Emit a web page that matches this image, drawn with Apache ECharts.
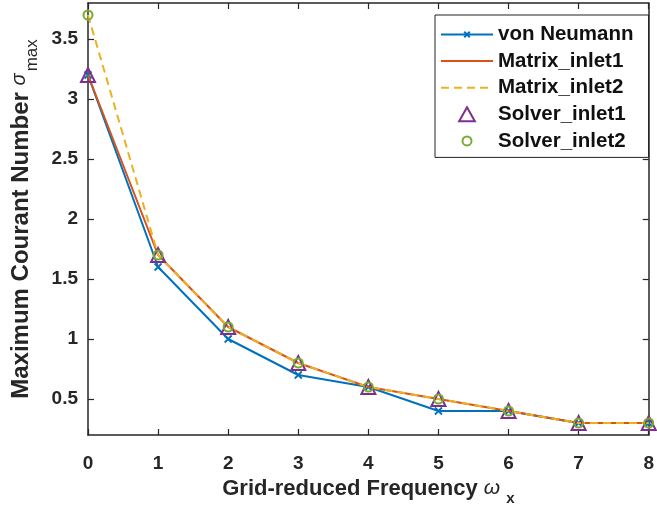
<!DOCTYPE html>
<html>
<head>
<meta charset="utf-8">
<script src="https://cdn.jsdelivr.net/npm/echarts@6/dist/echarts.min.js"></script>
<style>
html,body{margin:0;padding:0;background:#fff;}
#chart{width:657px;height:511px;}
</style>
</head>
<body>
<div id="chart"></div>
<script>
const xValues = [0, 1, 2, 3, 4, 5, 6, 7, 8];
const vonNeumann = [3.2, 1.6, 1.0, 0.7, 0.6, 0.4, 0.4, 0.3, 0.3];
const matrixInlet1 = [3.2, 1.7, 1.1, 0.8, 0.6, 0.5, 0.4, 0.3, 0.3];
const matrixInlet2 = [3.7, 1.7, 1.1, 0.8, 0.6, 0.5, 0.4, 0.3, 0.3];
const solverInlet1 = [3.2, 1.7, 1.1, 0.8, 0.6, 0.5, 0.4, 0.3, 0.3];
const solverInlet2 = [3.7, 1.7, 1.1, 0.8, 0.6, 0.5, 0.4, 0.3, 0.3];
const yTickValues = [0.5, 1, 1.5, 2, 2.5, 3, 3.5];
const yTickLabels = ['0.5', '1', '1.5', '2', '2.5', '3', '3.5'];
const seriesNames = ['von Neumann', 'Matrix_inlet1', 'Matrix_inlet2', 'Solver_inlet1', 'Solver_inlet2'];

const FONT = '"Liberation Sans", Arial, Helvetica, sans-serif';
const AX = '#262626';
const pairs = arr => xValues.map((x, i) => [x, arr[i]]);

// marker shapes (padded boxes so that legend icons keep a small size)
const X_MARK = 'path://M0,0M12,12M3,3L9,9M9,3L3,9';
const TRI_ICON = 'path://M7,0.5L14,13L0,13Z';
const CIRC_ICON = 'path://M0,0M14,14M11.5,7A4.5,4.5,0,1,1,2.5,7A4.5,4.5,0,1,1,11.5,7Z';

const chart = echarts.init(document.getElementById('chart'), null, {renderer: 'canvas'});

const xCommon = {type: 'value', min: 0, max: 8, interval: 1, splitLine: {show: false},
  axisLine: {show: true, onZero: false, lineStyle: {color: AX, width: 1.5}},
  axisTick: {show: true, inside: true, length: 6, lineStyle: {color: AX, width: 1.2}}};
const yCommon = {type: 'value', min: 0.2, max: 3.8, splitLine: {show: false},
  axisLine: {show: true, onZero: false, lineStyle: {color: AX, width: 1.5}},
  axisTick: {show: true, inside: true, length: 6, customValues: yTickValues, lineStyle: {color: AX, width: 1.2}}};

chart.setOption({
  animation: false,
  backgroundColor: '#fff',
  grid: {left: 88, right: 3, top: 3, bottom: 74, containLabel: false},
  legend: {
    data: [
      {name: seriesNames[0]},
      {name: seriesNames[1], itemStyle: {opacity: 0}},
      {name: seriesNames[2], itemStyle: {opacity: 0}},
      {name: seriesNames[3], icon: TRI_ICON},
      {name: seriesNames[4], icon: CIRC_ICON}
    ],
    orient: 'vertical',
    left: 435, top: 15,
    padding: [9, 15, 6, 5],
    itemGap: 5.6,
    itemWidth: 52, itemHeight: 14,
    backgroundColor: '#fff',
    borderColor: '#222', borderWidth: 1,
    textStyle: {fontFamily: FONT, fontWeight: 'bold', fontSize: 20.5, color: '#111'}
  },
  xAxis: [
    Object.assign({}, xCommon, {position: 'bottom',
      axisLabel: {show: true, margin: 19, fontFamily: FONT, fontWeight: 'bold', fontSize: 19, color: AX},
      name: '{b|Grid-reduced Frequency }{w|ω}{sub|x}',
      nameLocation: 'middle', nameGap: 43,
      nameTextStyle: {rich: {
        b: {fontFamily: FONT, fontWeight: 'bold', fontSize: 22, color: AX, lineHeight: 24, verticalAlign: 'top'},
        w: {fontFamily: FONT, fontStyle: 'italic', fontSize: 21, color: AX, lineHeight: 24, verticalAlign: 'top'},
        sub: {fontFamily: FONT, fontWeight: 'bold', fontSize: 15, color: AX, lineHeight: 44, verticalAlign: 'top', padding: [13, 0, 0, 6]}
      }}
    }),
    Object.assign({}, xCommon, {position: 'top', axisLabel: {show: false}})
  ],
  yAxis: [
    Object.assign({}, yCommon, {position: 'left',
      axisLabel: {show: true, margin: 10, customValues: yTickValues,
        formatter: v => yTickLabels[yTickValues.indexOf(Math.round(v * 10) / 10)] || String(v),
        fontFamily: FONT, fontWeight: 'bold', fontSize: 19, color: AX},
      name: '{b|Maximum Courant Number }{w|σ}{sub|max}',
      nameLocation: 'middle', nameGap: 50, nameRotate: 90,
      nameTextStyle: {rich: {
        b: {fontFamily: FONT, fontWeight: 'bold', fontSize: 24, color: AX, lineHeight: 28, verticalAlign: 'top'},
        w: {fontFamily: FONT, fontStyle: 'italic', fontSize: 20, color: AX, lineHeight: 28, verticalAlign: 'top'},
        sub: {fontFamily: FONT, fontSize: 17, color: AX, lineHeight: 28, verticalAlign: 'top', padding: [14, 0, 0, 2]}
      }}
    }),
    Object.assign({}, yCommon, {position: 'right', axisLabel: {show: false}})
  ],
  series: [
    {name: seriesNames[0], type: 'line', data: pairs(vonNeumann),
      symbol: X_MARK, symbolSize: 14, showSymbol: true,
      lineStyle: {color: '#0072BD', width: 2},
      itemStyle: {color: '#0072BD', borderColor: '#0072BD', borderWidth: 1.8}, z: 2},
    {name: seriesNames[1], type: 'line', data: pairs(matrixInlet1), symbol: 'none', showSymbol: false,
      lineStyle: {color: '#D95319', width: 2}, itemStyle: {color: '#D95319'}, z: 3},
    {name: seriesNames[2], type: 'line', data: pairs(matrixInlet2), symbol: 'none', showSymbol: false,
      lineStyle: {color: '#EDB120', width: 2, type: [8, 5]}, itemStyle: {color: '#EDB120'}, z: 4},
    {name: seriesNames[3], type: 'scatter', data: pairs(solverInlet1), symbol: 'triangle', symbolSize: 14,
      itemStyle: {color: 'rgba(0,0,0,0)', borderColor: '#7E2F8E', borderWidth: 2, opacity: 1}, z: 5},
    {name: seriesNames[4], type: 'scatter', data: pairs(solverInlet2), symbol: 'circle', symbolSize: 9,
      itemStyle: {color: 'rgba(0,0,0,0)', borderColor: '#77AC30', borderWidth: 2, opacity: 1}, z: 6}
  ]
});
</script>
</body>
</html>
